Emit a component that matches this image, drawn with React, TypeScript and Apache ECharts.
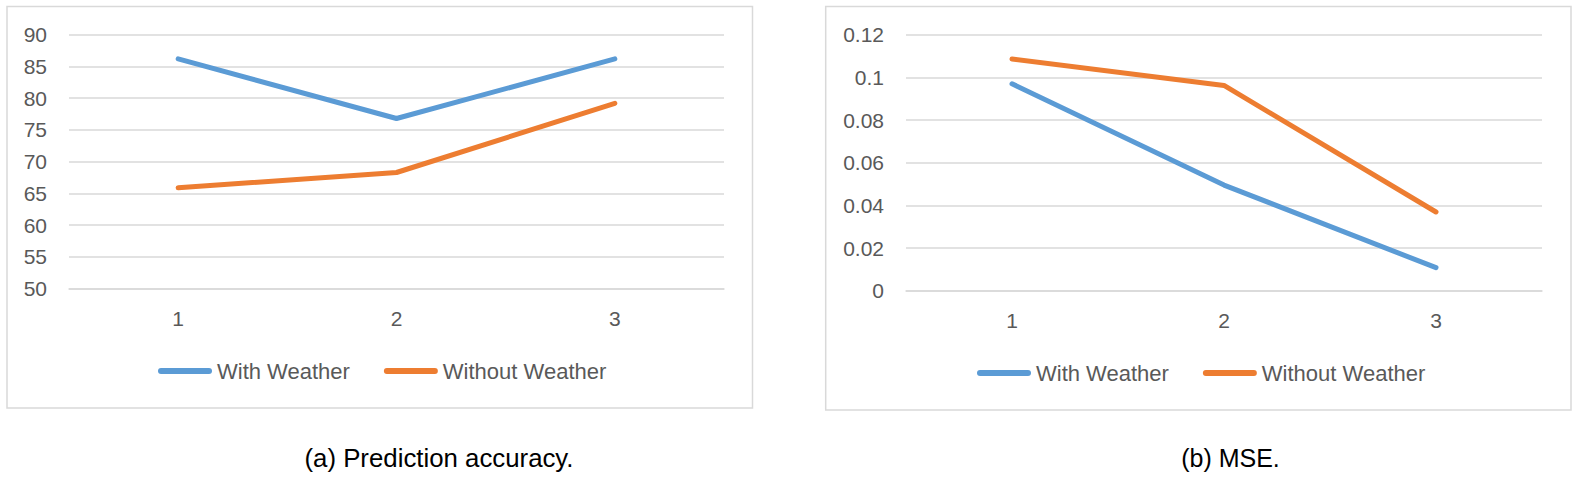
import React, { useEffect, useRef } from 'react';
import * as echarts from 'echarts';

// ---- data ----
const categories = ['1', '2', '3'];
const seriesNames = ['With Weather', 'Without Weather'];

// (a) Prediction accuracy
const accuracyWith = [86.2, 76.8, 86.2];
const accuracyWithout = [65.9, 68.3, 79.2];
const accuracyAxis = { min: 50, max: 90, interval: 5 };

// (b) MSE
const mseWith = [0.097, 0.0495, 0.0108];
const mseWithout = [0.1086, 0.0962, 0.0369];
const mseAxis = { min: 0, max: 0.12, interval: 0.02 };

const captions = ['(a) Prediction accuracy.', '(b) MSE.'];

const BLUE = '#5b9bd5';
const ORANGE = '#ed7d31';
const GRID = '#d9d9d9';
const TEXT = '#595959';
const FONT = '"Liberation Sans", Arial, sans-serif';

const legendIcon = 'path://M3,0 H51 A3,3 0 0 1 51,6 H3 A3,3 0 0 1 3,0 Z';

function xAxis(gridIndex: number, margin: number) {
  return {
    type: 'category',
    gridIndex,
    data: categories,
    boundaryGap: true,
    axisLine: { show: true, lineStyle: { color: GRID, width: 1.5 } },
    axisTick: { show: false },
    axisLabel: { color: TEXT, fontSize: 21, margin, fontFamily: FONT },
    splitLine: { show: false },
  };
}

function yAxis(gridIndex: number, cfg: { min: number; max: number; interval: number }) {
  return {
    type: 'value',
    gridIndex,
    min: cfg.min,
    max: cfg.max,
    interval: cfg.interval,
    axisLine: { show: false },
    axisTick: { show: false },
    axisLabel: { color: TEXT, fontSize: 21, margin: 22, fontFamily: FONT },
    splitLine: { show: true, lineStyle: { color: GRID, width: 1.5 } },
  };
}

function lineSeries(name: string, data: number[], color: string, idx: number) {
  return {
    type: 'line',
    name,
    data,
    xAxisIndex: idx,
    yAxisIndex: idx,
    symbol: 'none',
    color,
    itemStyle: { color },
    lineStyle: { color, width: 5, cap: 'round', join: 'round' },
  };
}

function legend(left: number, top: number) {
  return {
    left,
    top,
    padding: 0,
    orient: 'horizontal',
    itemWidth: 54,
    itemHeight: 6,
    itemGap: 34,
    icon: legendIcon,
    itemStyle: { borderWidth: 0 },
    textStyle: { color: TEXT, fontSize: 22, fontFamily: FONT, lineHeight: 22 },
    data: seriesNames.map((n) => ({ name: n, icon: legendIcon })),
  };
}

export default function App() {
  const ref = useRef<HTMLDivElement>(null);
  useEffect(() => {
    if (!ref.current) return;
    const chart = echarts.init(ref.current, null, { renderer: 'svg' });
    chart.setOption({
      animation: false,
      backgroundColor: '#ffffff',
      textStyle: { fontFamily: FONT },
      grid: [
        { left: 69, top: 34.7, width: 655, height: 254 },
        { left: 906, top: 34.7, width: 636, height: 256 },
      ],
      xAxis: [xAxis(0, 19), xAxis(1, 19)],
      yAxis: [yAxis(0, accuracyAxis), yAxis(1, mseAxis)],
      legend: [legend(158, 360), legend(977, 362)],
      series: [
        lineSeries(seriesNames[0], accuracyWith, BLUE, 0),
        lineSeries(seriesNames[1], accuracyWithout, ORANGE, 0),
        lineSeries(seriesNames[0], mseWith, BLUE, 1),
        lineSeries(seriesNames[1], mseWithout, ORANGE, 1),
      ],
      graphic: [
        {
          type: 'rect',
          shape: { x: 7, y: 6.5, width: 745.5, height: 401.5 },
          style: { fill: 'none', stroke: GRID, lineWidth: 1.5 },
          silent: true,
          z: -1,
        },
        {
          type: 'rect',
          shape: { x: 825.7, y: 6.5, width: 745.3, height: 403.5 },
          style: { fill: 'none', stroke: GRID, lineWidth: 1.5 },
          silent: true,
          z: -1,
        },
        {
          type: 'text',
          x: 439,
          y: 458,
          style: {
            text: captions[0],
            fill: '#000000',
            fontSize: 25.8,
            fontFamily: FONT,
            textAlign: 'center',
            textVerticalAlign: 'middle',
          },
        },
        {
          type: 'text',
          x: 1230.5,
          y: 458,
          style: {
            text: captions[1],
            fill: '#000000',
            fontSize: 25,
            fontFamily: FONT,
            textAlign: 'center',
            textVerticalAlign: 'middle',
          },
        },
      ],
    });
    return () => chart.dispose();
  }, []);
  return (
    <div
      ref={ref}
      style={{ position: 'fixed', left: 0, top: 0, width: 1581, height: 484, background: '#ffffff' }}
    />
  );
}
